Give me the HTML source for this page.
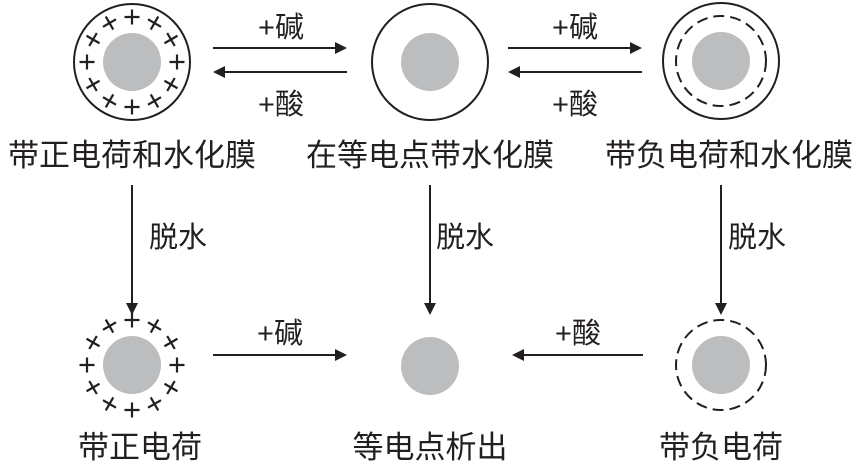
<!DOCTYPE html><html><head><meta charset="utf-8"><style>body{margin:0;background:#fff}</style></head><body>
<svg width="860" height="463" viewBox="0 0 860 463" xmlns="http://www.w3.org/2000/svg" font-family="Liberation Sans, Noto Sans CJK SC, sans-serif" fill="#231f20">
<defs>
<g id="plus"><path d="M-7.5,0H7.5M0,-7.5V7.5" stroke="#231f20" stroke-width="2.2"/></g>
<g id="ring">
<use href="#plus" transform="rotate(0) translate(0,-45)"/><use href="#plus" transform="rotate(30) translate(0,-45)"/><use href="#plus" transform="rotate(60) translate(0,-45)"/><use href="#plus" transform="rotate(90) translate(0,-45)"/><use href="#plus" transform="rotate(120) translate(0,-45)"/><use href="#plus" transform="rotate(150) translate(0,-45)"/><use href="#plus" transform="rotate(180) translate(0,-45)"/><use href="#plus" transform="rotate(210) translate(0,-45)"/><use href="#plus" transform="rotate(240) translate(0,-45)"/><use href="#plus" transform="rotate(270) translate(0,-45)"/><use href="#plus" transform="rotate(300) translate(0,-45)"/><use href="#plus" transform="rotate(330) translate(0,-45)"/>
</g></defs>
<g stroke="#231f20" stroke-width="2" fill="none">
<circle cx="132" cy="62" r="58"/><circle cx="430" cy="62" r="58"/><circle cx="721" cy="61" r="58"/>
<circle cx="721" cy="61" r="45" stroke-dasharray="11,6"/>
<circle cx="721" cy="365" r="45" stroke-dasharray="11,6"/>
<path d="M213,48H337M347,72H222M508,48H632M642,72H517M213,355H337M643,355H522M132,185V305M430,185V305M721,185V305" />
</g>
<g fill="#231f20">
<path d="M347,48l-12,-6v12z M213,72l12,-6v12z M642,48l-12,-6v12z M508,72l12,-6v12z M347,355l-12,-6v12z M512,355l12,-6v12z M132,315l-6,-12h12z M430,315l-6,-12h12z M721,315l-6,-12h12z"/>
</g>
<g fill="#bcbdbf"><circle cx="132" cy="62" r="29"/><circle cx="430" cy="62" r="29"/><circle cx="721" cy="61" r="29"/><circle cx="132" cy="365" r="29"/><circle cx="430" cy="366" r="29"/><circle cx="721" cy="365" r="29"/></g>
<use href="#ring" transform="translate(132,62)"/>
<use href="#ring" transform="translate(132,365)"/>
<g font-size="29" text-anchor="middle">
<text x="281" y="37">+碱</text><text x="281" y="114">+酸</text>
<text x="575" y="37">+碱</text><text x="575" y="114">+酸</text>
<text x="280" y="343">+碱</text><text x="578" y="343">+酸</text>
<text x="178" y="247">脱水</text><text x="465" y="247">脱水</text><text x="757" y="247">脱水</text>
</g>
<g font-size="31" text-anchor="middle">
<text x="132" y="166">带正电荷和水化膜</text><text x="430" y="166">在等电点带水化膜</text><text x="729" y="166">带负电荷和水化膜</text>
<text x="140" y="458">带正电荷</text><text x="430" y="458">等电点析出</text><text x="721" y="458">带负电荷</text>
</g>
</svg></body></html>
